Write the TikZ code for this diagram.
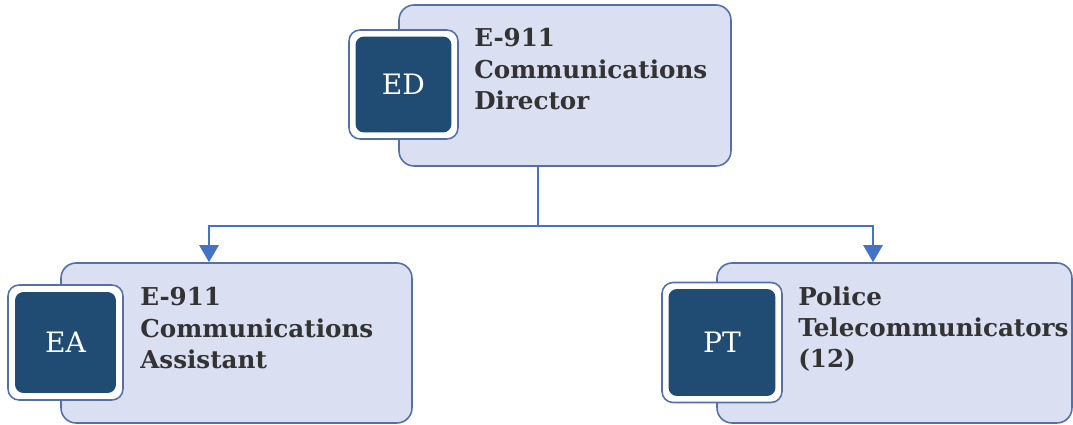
\documentclass[tikz,border=0pt]{standalone}
\usepackage{fontspec}
\setmainfont{DejaVu Serif}
\usetikzlibrary{arrows.meta}

\definecolor{cardfill}{HTML}{DAE0F2}
\definecolor{cardedge}{HTML}{5470A8}
\definecolor{badgeblue}{HTML}{204C74}
\definecolor{linkblue}{HTML}{4472C4}
\definecolor{titlegray}{HTML}{333333}

\tikzset{
	card/.style={draw=cardedge, fill=cardfill, line width=0.9pt, rounded corners=0.3cm},
	frame/.style={draw=cardedge, fill=white, line width=0.9pt, rounded corners=0.22cm, minimum size=#1, inner sep=0pt},
	badge/.style={fill=badgeblue, rounded corners=0.17cm, text=white, font=\fontsize{16}{18}\selectfont, minimum size=#1, inner sep=0pt},
	title/.style={anchor=north west, align=left, text=titlegray, font=\fontsize{14}{17.9}\selectfont\bfseries, inner sep=0pt},
	link/.style={draw=linkblue, line width=1.5pt},
}

\begin{document}
\begin{tikzpicture}[x=0.02cm, y=-0.02cm]
	\useasboundingbox (0,0) rectangle (1073,425);

	% boxes
	\node[card, minimum width=6.64cm, minimum height=3.22cm] (dir) at (565,85.5) {};
	\node[card, minimum width=7.02cm, minimum height=3.2cm] (asst) at (236.5,343) {};
	\node[card, minimum width=7.1cm, minimum height=3.2cm] (tele) at (894.5,343) {};

	% badges
	\node[frame=2.18cm] (dirf) at (403.5,84.5) {};
	\node[badge=1.92cm] (dirb) at (dirf) {ED};
	\node[frame=2.3cm] (asstf) at (65.5,342.5) {};
	\node[badge=2.02cm] (asstb) at (asstf) {EA};
	\node[frame=2.4cm] (telef) at (722,342.5) {};
	\node[badge=2.14cm] (teleb) at (telef) {PT};

	% titles
	\node[title] (dirt) at (474,28) {E-911\\Communications\\Director};
	\node[title] (asstt) at (140,287) {E-911\\Communications\\Assistant};
	\node[title] (telet) at (798,286) {Police\\Telecommunicators\\(12)};

	% connectors
	\coordinate (fork) at (538,226);
	\coordinate (toasst) at (209,263);
	\coordinate (totele) at (873,263);
	\draw[link] (fork |- dir.south) -- (fork);
	\draw[link, -{Triangle[length=0.34cm, width=0.38cm]}] (fork) -| (toasst |- asst.north);
	\draw[link, -{Triangle[length=0.34cm, width=0.38cm]}] (fork) -| (totele |- tele.north);
\end{tikzpicture}
\end{document}
